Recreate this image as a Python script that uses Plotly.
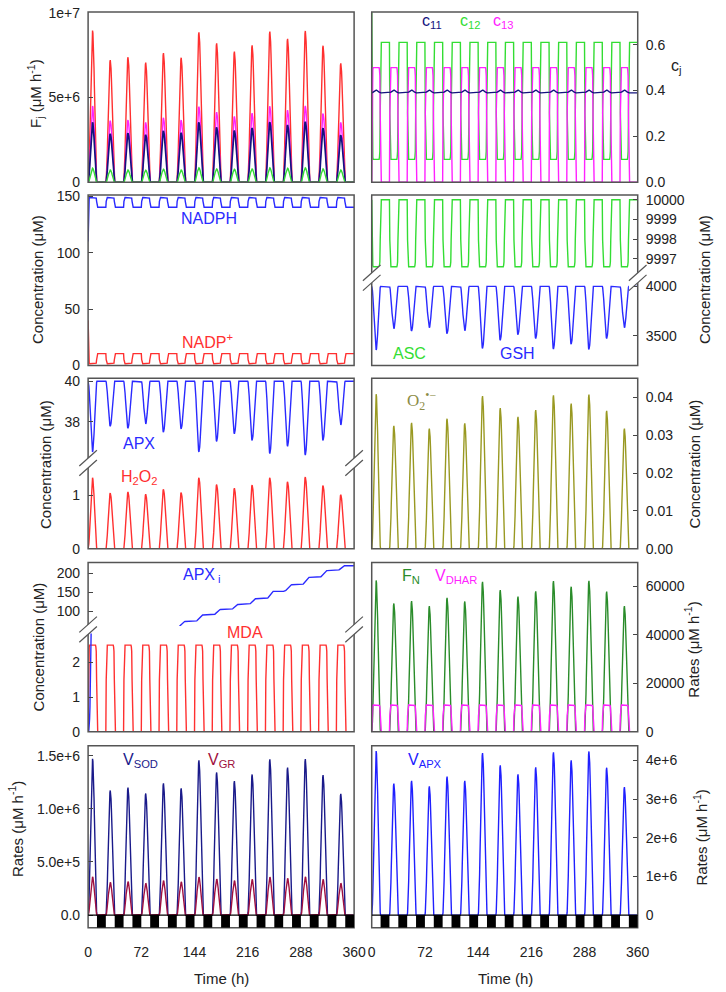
import plotly.graph_objects as go

FONT = "Liberation Sans, Arial, Helvetica, sans-serif"
SERIF = "Liberation Serif, Times New Roman, serif"
W, H = 726, 992

# ---------------- data ----------------
N_DAYS = 15
TIME_TICKS = [0, 72, 144, 216, 288, 360]

# intraday shapes sampled every 0.5 h over the 12 h light phase (25 samples)
PEAK_LIGHT = [0, 0.017, 0.067, 0.146, 0.25, 0.37, 0.5, 0.63, 0.75, 0.854, 0.933, 0.983, 1.0,
              0.983, 0.933, 0.854, 0.75, 0.63, 0.5, 0.37, 0.25, 0.146, 0.067, 0.017, 0]
PLATEAU_LIGHT = [0, 0.6, 0.93, 0.98, 1, 1, 1, 1, 1, 1, 1, 1, 1, 1, 1, 1, 1, 1, 1, 1, 1, 0.98, 0.93, 0.6, 0]
CUM_LIGHT = [0, 0.0005, 0.0038, 0.0125, 0.0288, 0.0546, 0.0908, 0.138, 0.1955, 0.2625, 0.3371, 0.4171, 0.5,
             0.5829, 0.6629, 0.7375, 0.8045, 0.862, 0.9092, 0.9454, 0.9712, 0.9875, 0.9962, 0.9995, 1]

# daily peak values
F_RED = [8.94e6, 7.20e6, 7.37e6, 7.05e6, 7.61e6, 7.34e6, 8.84e6, 8.19e6, 7.70e6, 8.07e6, 8.88e6, 8.46e6, 8.92e6, 8.05e6, 7.01e6]
F_MAG = [4.50e6, 3.63e6, 3.67e6, 3.53e6, 3.80e6, 3.67e6, 4.46e6, 4.13e6, 3.88e6, 4.07e6, 4.48e6, 4.25e6, 4.50e6, 4.05e6, 3.53e6]
F_NAVY = [3.53e6, 2.86e6, 2.90e6, 2.80e6, 3.03e6, 2.92e6, 3.53e6, 3.24e6, 3.05e6, 3.20e6, 3.55e6, 3.38e6, 3.57e6, 3.19e6, 2.78e6]
F_GREEN = [0.83e6, 0.73e6, 0.73e6, 0.71e6, 0.77e6, 0.73e6, 0.85e6, 0.79e6, 0.77e6, 0.79e6, 0.85e6, 0.83e6, 0.85e6, 0.79e6, 0.73e6]

C11_BASE, C11_BUMP = 0.39, 0.012
C12_DARK, C12_LIGHT, C12_INIT = 0.61, 0.10, 0.74
C13_HIGH = 0.50

NADPH_LOW, NADPH_HIGH, NADPH_INIT = 140.4, 149.0, 110.0
NADP_LOW, NADP_HIGH, NADP_INIT = 1.5, 10.5, 40.0

ASC_TOP, ASC_LOW = 10000.0, 9996.6
GSH_TOP = 4000.0
GSH_MIN = [3358, 3573, 3550, 3583, 3523, 3553, 3374, 3457, 3513, 3474, 3368, 3417, 3364, 3474, 3583]

APX_TOP = 40.0
APX_MIN = [36.5, 37.77, 37.67, 37.89, 37.48, 37.64, 36.5, 37.02, 37.4, 37.07, 36.42, 36.78, 36.34, 37.07, 37.84]
H2O2_PEAK = [1.325, 1.04, 1.06, 1.02, 1.11, 1.05, 1.325, 1.2, 1.13, 1.19, 1.325, 1.25, 1.34, 1.18, 1.01]
O2_PEAK = [0.0409, 0.0325, 0.0333, 0.0318, 0.0344, 0.0332, 0.0404, 0.0372, 0.0349, 0.0367, 0.0406, 0.0384, 0.0408, 0.0365, 0.0318]

APXI_END = [13, 25, 37, 48, 57, 72, 89.5, 104, 117.5, 133, 152.6, 170, 190, 208, 221]
MDA_HIGH = 2.5
FN_PEAK = [62300, 52840, 53780, 51760, 55140, 53650, 61760, 58380, 55680, 57840, 62030, 59730, 62160, 57700, 51760]
VDHAR_HIGH = 11080
VSOD_PEAK = [1.472e6, 1.173e6, 1.200e6, 1.145e6, 1.240e6, 1.194e6, 1.457e6, 1.343e6, 1.262e6, 1.324e6, 1.466e6, 1.389e6, 1.469e6, 1.318e6, 1.142e6]
VGR_PEAK = [0.361e6, 0.309e6, 0.315e6, 0.300e6, 0.324e6, 0.312e6, 0.358e6, 0.340e6, 0.324e6, 0.336e6, 0.358e6, 0.346e6, 0.361e6, 0.336e6, 0.300e6]
VAPX_PEAK = [4.24e6, 3.40e6, 3.47e6, 3.33e6, 3.58e6, 3.47e6, 4.19e6, 3.87e6, 3.64e6, 3.82e6, 4.21e6, 4.00e6, 4.23e6, 3.81e6, 3.31e6]

# tick labels
F_TICKS = [0, 5e6, 1e7]; F_TICKTEXT = ["0", "5e+6", "1e+7"]
C_TICKS = [0, 0.2, 0.4, 0.6]; C_TICKTEXT = ["0.0", "0.2", "0.4", "0.6"]
NADP_TICKS = [0, 50, 100, 150]
ASC_TICKS = [9997, 9998, 9999, 10000]
GSH_TICKS = [3500, 4000]
APX_TICKS = [38, 40]
H2O2_TICKS = [0, 1]
O2_TICKS = [0, 0.01, 0.02, 0.03, 0.04]; O2_TICKTEXT = ["0.00", "0.01", "0.02", "0.03", "0.04"]
APXI_TICKS = [100, 150, 200]
MDA_TICKS = [0, 1, 2]
FN_TICKS = [0, 20000, 40000, 60000]
VSOD_TICKS = [0, 5e5, 1e6, 1.5e6]; VSOD_TICKTEXT = ["0.0", "5.0e+5", "1.0e+6", "1.5e+6"]
VAPX_TICKS = [0, 1e6, 2e6, 3e6, 4e6]; VAPX_TICKTEXT = ["0", "1e+6", "2e+6", "3e+6", "4e+6"]

# ---------------- build series ----------------
DARK_N = 23
T = [k * 24 + j * 0.5 for k in range(N_DAYS) for j in range(48)] + [360.0]


def series(daily, light, base=0.0, sign=1.0, dark=0.0):
    prof = light + [dark] * DARK_N
    ys = []
    for k in range(N_DAYS):
        for p in prof:
            ys.append(base + sign * daily[k] * p)
    ys.append(base + sign * daily[-1] * prof[0])
    return ys


def const(v):
    return [v] * N_DAYS


f_red = series(F_RED, PEAK_LIGHT)
f_mag = series(F_MAG, PEAK_LIGHT)
f_navy = series(F_NAVY, PEAK_LIGHT)
f_green = series(F_GREEN, PEAK_LIGHT)

c11 = series(const(C11_BUMP), PEAK_LIGHT, base=C11_BASE)
c12 = series(const(C12_DARK - C12_LIGHT), PLATEAU_LIGHT, base=C12_DARK, sign=-1)
c12[0] = C12_INIT
c13 = series(const(C13_HIGH), PLATEAU_LIGHT)

nadph = series(const(NADPH_HIGH - NADPH_LOW), PLATEAU_LIGHT, base=NADPH_LOW)
nadph[0] = NADPH_INIT
nadp = series(const(NADP_HIGH - NADP_LOW), PLATEAU_LIGHT, base=NADP_HIGH, sign=-1)
nadp[0] = NADP_INIT

asc = series(const(ASC_TOP - ASC_LOW), PLATEAU_LIGHT, base=ASC_TOP, sign=-1)
gsh = series([GSH_TOP - v for v in GSH_MIN], PEAK_LIGHT, base=GSH_TOP, sign=-1)

apx = series([APX_TOP - v for v in APX_MIN], PEAK_LIGHT, base=APX_TOP, sign=-1)
h2o2 = series(H2O2_PEAK, PEAK_LIGHT)
o2 = series(O2_PEAK, PEAK_LIGHT)

apxi = []
prev = 0.0
for k in range(N_DAYS):
    for p in CUM_LIGHT + [1.0] * DARK_N:
        apxi.append(prev + (APXI_END[k] - prev) * p)
    prev = APXI_END[k]
apxi.append(APXI_END[-1])
mda = series(const(MDA_HIGH), PLATEAU_LIGHT)

fn = series(FN_PEAK, PEAK_LIGHT)
vdhar = series(const(VDHAR_HIGH), PLATEAU_LIGHT)
vsod = series(VSOD_PEAK, PEAK_LIGHT)
vgr = series(VGR_PEAK, PEAK_LIGHT)
vapx = series(VAPX_PEAK, PEAK_LIGHT)

# ---------------- layout helpers ----------------
LEFT = (86, 358)
RIGHT = (376, 648)
ROWS = [(5, 178), (191, 364), (377, 550), (564, 736), (750, 935)]


def xa(i): return "xaxis" if i == 1 else f"xaxis{i}"
def ya(i): return "yaxis" if i == 1 else f"yaxis{i}"
def xr(i): return "x" if i == 1 else f"x{i}"
def yr(i): return "y" if i == 1 else f"y{i}"


layout = dict(width=W, height=H, margin=dict(l=0, r=0, t=0, b=0), paper_bgcolor="white",
              plot_bgcolor="rgba(0,0,0,0)", showlegend=False,
              font=dict(family=FONT, size=14, color="#222"))
TICKFONT = dict(size=14, family=FONT, color="#222")


def add_x(i, col, anchor_y, labels=False):
    d = dict(domain=[col[0] / W, col[1] / W], range=[0, 360], anchor=yr(anchor_y), showgrid=False,
             zeroline=False, showline=False, ticks="", showticklabels=labels)
    if labels:
        d.update(tickvals=TIME_TICKS, ticktext=[str(v) for v in TIME_TICKS], tickfont=TICKFONT,
                 ticklabelstandoff=14)
    layout[xa(i)] = d


def add_y(i, anchor_x, top_px, bot_px, rng, tickvals, ticktext=None, side="left"):
    if ticktext is None:
        ticktext = [str(v) for v in tickvals]
    layout[ya(i)] = dict(domain=[1 - bot_px / H, 1 - top_px / H], range=rng, anchor=xr(anchor_x), side=side,
                         showgrid=False, zeroline=False, showline=False, ticks="inside", ticklen=5,
                         tickwidth=1, tickcolor="#444", tickvals=tickvals, ticktext=ticktext,
                         tickfont=TICKFONT, ticklabelstandoff=7)


# row 1
add_x(1, LEFT, 1); add_y(1, 1, 5, 178, [0, 1.004e7], F_TICKS, F_TICKTEXT)
add_x(2, RIGHT, 2); add_y(2, 2, 5, 178, [0, 0.743], C_TICKS, C_TICKTEXT, side="right")
# row 2
add_x(3, LEFT, 3); add_y(3, 3, 191, 364, [0, 151.1], NADP_TICKS)
add_x(4, RIGHT, 5)
add_y(4, 4, 191, 267, [9996.435, 10000.235], ASC_TICKS, side="right")
add_y(5, 4, 281, 364, [3202.3, 4026.8], GSH_TICKS, side="right")
# row 3
add_x(5, LEFT, 7)
add_y(6, 5, 377, 458, [36.195, 40.146], APX_TICKS)
add_y(7, 5, 468, 550, [0, 1.51], H2O2_TICKS)
add_x(6, RIGHT, 8); add_y(8, 6, 377, 550, [0, 0.0451], O2_TICKS, O2_TICKTEXT, side="right")
# row 4
add_x(7, LEFT, 10)
add_y(9, 7, 564, 628.5, [60, 229.7], APXI_TICKS)
add_y(10, 7, 636, 736, [0, 2.84], MDA_TICKS)
add_x(8, RIGHT, 11); add_y(11, 8, 564, 736, [0, 69700], FN_TICKS, side="right")
# row 5
VSOD_RANGE = [-0.12e6, 1.595e6]
VAPX_RANGE = [-0.33e6, 4.38e6]
add_x(9, LEFT, 12, labels=True); add_y(12, 9, 750, 935, VSOD_RANGE, VSOD_TICKS, VSOD_TICKTEXT)
add_x(10, RIGHT, 13, labels=True); add_y(13, 10, 750, 935, VAPX_RANGE, VAPX_TICKS, VAPX_TICKTEXT, side="right")

fig = go.Figure()


def line(y, xi, yi, color, width=1.4):
    fig.add_trace(go.Scatter(x=T, y=y, xaxis=xr(xi), yaxis=yr(yi), mode="lines",
                             line=dict(color=color, width=width), hoverinfo="skip"))


RED = "#ff3030"; MAG = "#ff22ff"; NAVY = "#14147e"; LIME = "#33dd33"; BLUE = "#2a2aff"
line(f_red, 1, 1, RED); line(f_mag, 1, 1, MAG); line(f_navy, 1, 1, NAVY, 1.7); line(f_green, 1, 1, LIME)
line(c12, 2, 2, LIME); line(c13, 2, 2, MAG); line(c11, 2, 2, NAVY)
line(nadph, 3, 3, BLUE); line(nadp, 3, 3, RED)
line(asc, 4, 4, LIME); line(gsh, 4, 5, BLUE)
line(apx, 5, 6, BLUE); line(h2o2, 5, 7, RED)
line(o2, 6, 8, "#999922")
line(mda, 7, 10, RED); line(apxi, 7, 9, BLUE); line(apxi, 7, 10, BLUE)
line(fn, 8, 11, "#2a8c2a"); line(vdhar, 8, 11, MAG)
line(vsod, 9, 12, "#1a1a8a"); line(vgr, 9, 12, "#a01040")
line(vapx, 10, 13, "#2020ff")

# ---------------- shapes ----------------
shapes = []
for (t, b) in ROWS:
    for col in (LEFT, RIGHT):
        shapes.append(dict(type="rect", xref="paper", yref="paper", x0=col[0] / W, x1=col[1] / W,
                           y0=1 - b / H, y1=1 - t / H, line=dict(color="#555", width=1.5),
                           fillcolor="rgba(0,0,0,0)", layer="above"))


def break_marks(xc, yc):
    dx, dy, sep = 9, 8, 5
    pts = [(xc - dx, yc - sep + dy), (xc + dx, yc - sep - dy), (xc + dx, yc + sep - dy), (xc - dx, yc + sep + dy)]
    path = "M " + " L ".join(f"{x / W:.5f},{1 - y / H:.5f}" for x, y in pts) + " Z"
    shapes.append(dict(type="path", xref="paper", yref="paper", path=path, fillcolor="white",
                       line=dict(width=0), layer="above"))
    for s in (-sep, sep):
        shapes.append(dict(type="line", xref="paper", yref="paper", x0=(xc - dx) / W, y0=1 - (yc + s + dy) / H,
                           x1=(xc + dx) / W, y1=1 - (yc + s - dy) / H, line=dict(color="#555", width=1.2),
                           layer="above"))


for xc in RIGHT:
    break_marks(xc, 275)
for xc in LEFT:
    break_marks(xc, 463)
    break_marks(xc, 632)

for xi, yi, rng in ((9, 12, VSOD_RANGE), (10, 13, VAPX_RANGE)):
    for k in range(N_DAYS):
        shapes.append(dict(type="rect", xref=xr(xi), yref=yr(yi), x0=24 * k + 12, x1=24 * k + 24,
                           y0=rng[0], y1=0, fillcolor="black", line=dict(width=0), layer="above"))
    shapes.append(dict(type="line", xref=xr(xi), yref=yr(yi), x0=0, x1=360, y0=0, y1=0,
                       line=dict(color="black", width=1.2), layer="above"))

layout["shapes"] = shapes

# ---------------- annotations ----------------
anns = []


def ann(text, xpx, ypx, color="#222", size=16, family=FONT, angle=0):
    anns.append(dict(text=text, x=xpx / W, y=1 - ypx / H, xref="paper", yref="paper", showarrow=False,
                     font=dict(size=size, color=color, family=family), textangle=angle,
                     xanchor="center", yanchor="middle"))


# axis titles
ann("F<sub>j</sub> (μM h<sup>-1</sup>)", 32, 88, size=15, angle=-90)
ann("Concentration (μM)", 35, 277, size=15, angle=-90)
ann("Concentration (μM)", 43, 465, size=15, angle=-90)
ann("Concentration (μM)", 35, 650, size=15, angle=-90)
ann("Rates (μM h<sup>-1</sup>)", 12, 835, size=15, angle=-90)
ann("c<sub>j</sub>", 688, 60, size=16)
ann("Concentration (μM)", 717, 277, size=15, angle=-90)
ann("Concentration (μM)", 707, 464, size=15, angle=-90)
ann("Rates (μM h<sup>-1</sup>)", 703, 653, size=15, angle=-90)
ann("Rates (μM h<sup>-1</sup>)", 712, 843, size=15, angle=-90)
ann("Time (h)", 222, 986, size=15)
ann("Time (h)", 513, 986, size=15)

# series labels
ann("c<sub>11</sub>", 438, 15, NAVY)
ann("c<sub>12</sub>", 477, 15, LIME)
ann("c<sub>13</sub>", 510, 15, MAG)
ann("NADPH", 210, 215, BLUE)
ann("NADP<sup>+</sup>", 208, 339, RED)
ann("ASC", 415, 352, LIME)
ann("GSH", 525, 352, BLUE)
ann("APX", 138, 443, BLUE)
ann("H<sub>2</sub>O<sub>2</sub>", 138, 478, RED)
ann("O<sub>2</sub><sup>•−</sup>", 427, 400, "#8c8c46", size=17, family=SERIF)
ann("APX<sub> i</sub>", 202, 577, BLUE)
ann("MDA", 246, 635, RED)
ann("F<sub>N</sub>", 416, 578, "#2a8c2a")
ann("V<sub>DHAR</sub>", 462, 578, MAG)
ann("V<sub>SOD</sub>", 140, 765, "#1a1a8a")
ann("V<sub>GR</sub>", 222, 765, "#a01040")
ann("V<sub>APX</sub>", 430, 765, "#2020ff")

layout["annotations"] = anns
fig.update_layout(**layout)
fig.write_html("out.html", config={"displayModeBar": False},
               post_script="document.body.style.margin='0';")
